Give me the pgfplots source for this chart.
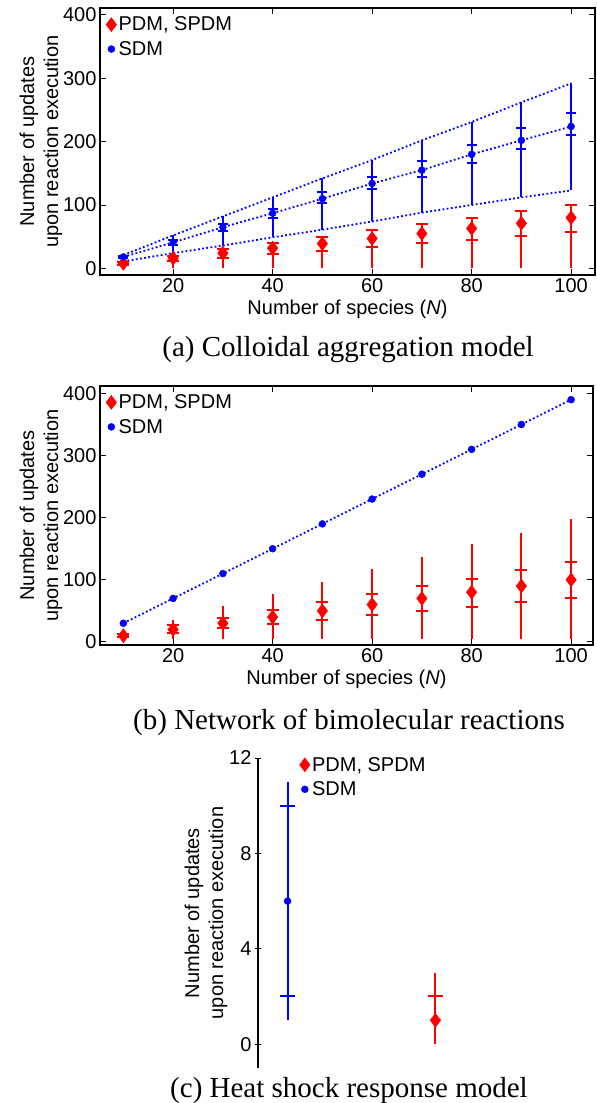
\documentclass[border=0pt]{standalone}
\usepackage{fontspec}
\setmainfont{Liberation Sans}
\newfontfamily\capfont{Liberation Serif}
\usepackage{pgfplots}
\usepackage{pgfplotstable}
\pgfplotsset{compat=1.18}

\definecolor{mred}{RGB}{255,0,0}
\definecolor{mblue}{RGB}{0,0,255}
\newcommand\sz{\fontsize{20}{24}\selectfont}

% (a) colloidal aggregation
\pgfplotstableread{
N mean lo hi qlo qhi
10 18 11 21 16 20
20 41 24 52 37 45
30 65 36 82 59 70
40 87 49 112 80 94
50 110 61 142 103 120
60 134 74 171 125 144
70 155 88 202 145 169
80 180 100 231 166 194
90 202 112 262 189 221
100 224 123 292 210 245
}\sdmA
\pgfplotstableread{
N mean lo hi qlo
10 8 1 10 6
20 16 1 20 11
30 24 1 30 17
40 32 1 40 23
50 39 1 49 28
60 47 1 60 34
70 55 1 70 40
80 63 1 79 45
90 71 1 90 51
100 80 1 100 57
}\pdmA
% (b) bimolecular network
\pgfplotstableread{
N mean
10 30
20 70
30 110
40 150
50 190
60 230
70 270
80 310
90 350
100 390
}\sdmB
\pgfplotstableread{
N mean lo hi qlo qhi
10 10 5 17 8 13
20 20 5 36 15 27
30 30 5 58 22 39
40 40 5 77 29 51
50 50 5 97 36 64
60 60 5 117 43 77
70 70 5 137 50 90
80 80 5 157 57 102
90 90 5 176 64 116
100 100 5 198 71 129
}\pdmB
% (c) heat shock
\pgfplotstableread{
N mean lo hi qlo qhi
1 6 1 11 2 10
}\sdmC
\pgfplotstableread{
N mean lo hi qlo qhi
2 1 0 3 1 2
}\pdmC

\pgfplotsset{
  mat/.style={
    scale only axis,
    axis line style={line width=1.3pt},
    every tick/.style={black, line width=1pt},
    major tick length=6pt,
    tick align=inside,
    /pgf/number format/assume math mode=true,
    ticklabel style={font=\sz},
    label style={font=\sz},
    ylabel style={align=center},
    legend style={draw=none, fill=none, font=\sz, legend cell align=left,
      inner sep=0pt, row sep=5pt},
    legend image code/.code={\draw[#1] plot coordinates {(6pt,0pt)};},
  },
  whisk/.style={draw=#1, line width=2pt, mark=none, forget plot,
    quiver={u=0, v=\thisrow{hi}-\thisrow{lo}}},
  caps/.style 2 args={only marks, mark=-, mark size=#2, color=#1,
    mark options={line width=2pt, solid}, forget plot},
  dots/.style={mblue, line width=1.8pt, dash pattern=on 1.8pt off 2.4pt, forget plot},
  redm/.style={only marks, mark=diamond*, mark size=7pt, color=mred},
  bluem/.style={only marks, mark=*, mark size=3.5pt, color=mblue},
}

\begin{document}
\begin{tikzpicture}
\path[use as bounding box] (0,0) rectangle (597pt,-1103pt);

% ---------- (a)
\begin{axis}[mat, at={(100pt,-275pt)}, anchor=south west,
  width=495pt, height=267pt,
  xmin=5.3, xmax=104.8, ymin=-10.5, ymax=411,
  xtick={20,40,60,80,100}, ytick={0,100,200,300,400},
  xlabel={Number of species (\textit{N})},
  ylabel={Number of updates\\upon reaction execution},
  ylabel style={yshift=-6pt},
  legend style={at={(0.012,0.975)}, anchor=north west}]
\addplot[whisk=mblue] table[x=N, y=lo] {\sdmA};
\addplot[caps={mblue}{5pt}] table[x=N, y=qlo] {\sdmA};
\addplot[caps={mblue}{5pt}] table[x=N, y=qhi] {\sdmA};
\addplot[dots] table[x=N, y=hi] {\sdmA};
\addplot[dots] table[x=N, y=mean] {\sdmA};
\addplot[dots] table[x=N, y=lo] {\sdmA};
\addplot[whisk=mred] table[x=N, y=lo] {\pdmA};
\addplot[caps={mred}{6pt}] table[x=N, y=hi] {\pdmA};
\addplot[caps={mred}{6pt}] table[x=N, y=qlo] {\pdmA};
\addplot[redm] table[x=N, y=mean] {\pdmA};
\addplot[bluem] table[x=N, y=mean] {\sdmA};
\legend{PDM{,} SPDM, SDM}
\end{axis}
\node[font=\capfont\fontsize{29}{34}\selectfont, anchor=base] at (348pt,-356pt) {(a) Colloidal aggregation model};

% ---------- (b)
\begin{axis}[mat, at={(100pt,-645pt)}, anchor=south west,
  width=493pt, height=259pt,
  xmin=5.3, xmax=104.4, ymin=-5, ymax=412,
  xtick={20,40,60,80,100}, ytick={0,100,200,300,400},
  xlabel={Number of species (\textit{N})},
  ylabel={Number of updates\\upon reaction execution},
  ylabel style={yshift=-6pt},
  legend style={at={(0.012,0.975)}, anchor=north west}]
\addplot[dots] table[x=N, y=mean] {\sdmB};
\addplot[whisk=mred] table[x=N, y=lo] {\pdmB};
\addplot[caps={mred}{6pt}] table[x=N, y=qlo] {\pdmB};
\addplot[caps={mred}{6pt}] table[x=N, y=qhi] {\pdmB};
\addplot[redm] table[x=N, y=mean] {\pdmB};
\addplot[bluem] table[x=N, y=mean] {\sdmB};
\legend{PDM{,} SPDM, SDM}
\end{axis}
\node[font=\capfont\fontsize{29}{34}\selectfont, anchor=base] at (349pt,-729pt) {(b) Network of bimolecular reactions};

% ---------- (c)
\begin{axis}[mat, at={(258pt,-1068pt)}, anchor=south west,
  width=207pt, height=310pt,
  axis x line=none, axis y line=left,
  y axis line style={-, line width=1.3pt},
  xmin=0.8, xmax=2.2, ymin=-1, ymax=12,
  ytick={0,4,8,12},
  ylabel={Number of updates\\upon reaction execution},
  ylabel style={yshift=-5pt},
  legend style={at={(0.2,1.01)}, anchor=north west}]
\addplot[whisk=mblue] table[x=N, y=lo] {\sdmC};
\addplot[caps={mblue}{7.5pt}] table[x=N, y=qlo] {\sdmC};
\addplot[caps={mblue}{7.5pt}] table[x=N, y=qhi] {\sdmC};
\addplot[whisk=mred] table[x=N, y=lo] {\pdmC};
\addplot[caps={mred}{7.5pt}] table[x=N, y=qhi] {\pdmC};
\addplot[redm] table[x=N, y=mean] {\pdmC};
\addplot[bluem] table[x=N, y=mean] {\sdmC};
\legend{PDM{,} SPDM, SDM}
\end{axis}
\node[font=\capfont\fontsize{29}{34}\selectfont, anchor=base] at (349pt,-1097pt) {(c) Heat shock response model};
\end{tikzpicture}
\end{document}
